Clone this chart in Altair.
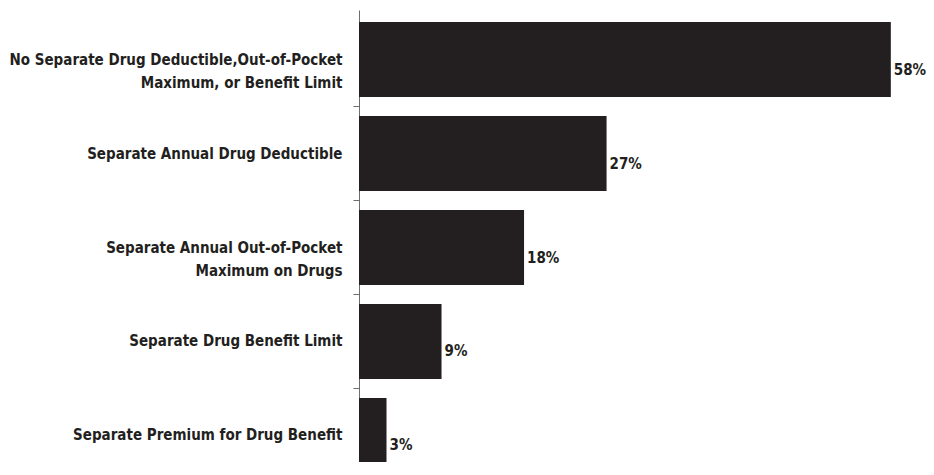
import altair as alt
import pandas as pd

categories = [
    "No Separate Drug Deductible,Out-of-Pocket|Maximum, or Benefit Limit",
    "Separate Annual Drug Deductible",
    "Separate Annual Out-of-Pocket|Maximum on Drugs",
    "Separate Drug Benefit Limit",
    "Separate Premium for Drug Benefit",
]
values = [58, 27, 18, 9, 3]
labels = ["58%", "27%", "18%", "9%", "3%"]

df = pd.DataFrame({"cat": categories, "val": values, "lab": labels})

FONT = "DejaVu Sans Condensed"
DARK = "#231f20"
AXIS = "#6d6d6d"

yscale = alt.Scale(domain=categories, paddingInner=0.2, paddingOuter=0.127, range=[0, 475])
xscale = alt.Scale(domain=[0, 60.2])

bars = alt.Chart(df).mark_bar(color=DARK).encode(
    x=alt.X("val:Q", scale=xscale, axis=None),
    y=alt.Y("cat:N", sort=categories, scale=yscale, title=None,
            axis=alt.Axis(orient="left", labels=False, domain=False, ticks=True,
                          tickSize=6, tickColor=AXIS, bandPosition=1.125, grid=False)),
)

text = alt.Chart(df).mark_text(align="left", baseline="middle", dx=3, dy=10,
                               font=FONT, fontWeight="bold", fontSize=15,
                               color=DARK).encode(
    x=alt.X("val:Q", scale=xscale, axis=None),
    y=alt.Y("cat:N", sort=categories, scale=yscale, title=None,
            axis=alt.Axis(orient="left", labels=True, domain=True, ticks=False,
                          tickSize=0, domainColor=AXIS, labelPadding=17,
                          labelFont=FONT, labelFontWeight="bold", labelFontSize=15,
                          labelColor=DARK, labelLineHeight=23, labelAlign="right",
                          labelExpr="split(datum.label, '|')", labelLimit=400,
                          grid=False)),
    text="lab:N",
)

chart = alt.layer(bars, text).resolve_axis(y="independent").properties(
    width=552, height=452,
    autosize=alt.AutoSizeParams(type="none"),
    padding={"left": 351, "top": 2, "right": 15, "bottom": 0},
).configure_view(stroke=None)

chart.save("out.html", embed_options={"renderer": "svg", "actions": False})
